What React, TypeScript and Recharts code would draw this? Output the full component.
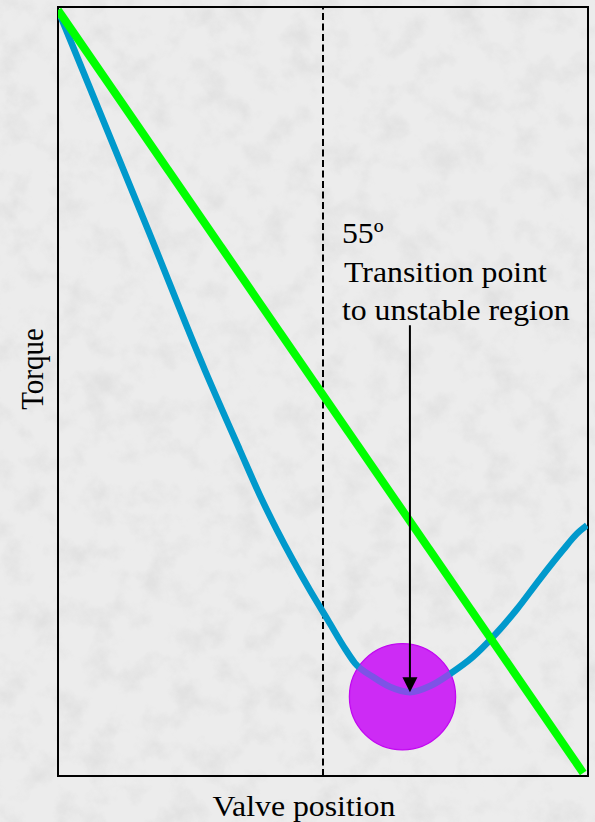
import React from 'react';
import { LineChart, Line, XAxis, YAxis, ReferenceLine, ReferenceArea, ReferenceDot } from 'recharts';

// valve position (0-100) vs torque (0-100)
const blueX = [0, 17.0, 27.7, 34.3, 38.5, 41.3, 44.3, 47.5, 50.9, 54.3, 56.0, 59.4, 62.6, 66.4, 70.2, 74.0, 78.3, 82.1, 86.6, 90.9, 95.3, 97.9, 99.8];
const blueY = [99.6, 71.0, 52.8, 42.4, 35.9, 32.0, 28.1, 24.2, 20.3, 16.4, 14.7, 12.9, 11.6, 10.9, 11.7, 13.3, 15.5, 18.1, 21.7, 25.6, 29.4, 31.5, 32.6];
const greenX = [0, 99.1];
const greenY = [99.6, 0.4];

const transitionX = 50;
const minimumX = 66.4;
const minimumY = 10.9;
const arrowTopY = 58.6;
const circleX = 65;
const circleY = 10.3;

const noteLines = ['55º', 'Transition point', 'to unstable region'];
const xTitle = 'Valve position';
const yTitle = 'Torque';

const blueData = blueX.map((x, i) => ({ x, y: blueY[i] }));
const greenData = greenX.map((x, i) => ({ x, y: greenY[i] }));

const FONT = 'Liberation Serif';
const SX = 1.06; // the lettering in the picture is a bit wide

const XTitle = (props: any) => {
  const vb = props.viewBox || { x: 58, y: 776, width: 530, height: 46 };
  const cx = vb.x + vb.width / 2 - 19;
  const cy = vb.y + 40;
  return (
    <text transform={`translate(${cx}, ${cy}) scale(${SX}, 1)`} textAnchor="middle" style={{ fontFamily: FONT }} fontSize={30} fill="#000">
      {xTitle}
    </text>
  );
};

const YTitle = (props: any) => {
  const vb = props.viewBox || { x: 0, y: 7, width: 58, height: 769 };
  const cx = vb.x + 43;
  const cy = vb.y + 362;
  return (
    <text transform={`translate(${cx}, ${cy}) rotate(-90) scale(1, ${SX})`} textAnchor="middle" style={{ fontFamily: FONT }} fontSize={29} fill="#000">
      {yTitle}
    </text>
  );
};

const Arrow = (props: any) => {
  const { x1, y1, x2, y2 } = props;
  return (
    <g>
      <text transform={`translate(${x1 - 68}, ${y1 - 82}) scale(${SX}, 1)`} style={{ fontFamily: FONT }} fontSize={30} fill="#000">
        {noteLines.map((t, i) => (
          <tspan key={i} x={i === 1 ? 2 : 0} y={i * 38.5}>
            {t}
          </tspan>
        ))}
      </text>
      <line x1={x1} y1={y1} x2={x2} y2={y2 - 12} stroke="#000" strokeWidth={2} />
      <polygon points={`${x2 - 7.5},${y2 - 15} ${x2 + 7.5},${y2 - 15} ${x2},${y2}`} fill="#000" />
    </g>
  );
};

const Background = () => (
  <svg width={595} height={822} style={{ position: 'absolute', left: 0, top: 0 }}>
    <defs>
      <filter id="marble" x="0" y="0" width="100%" height="100%">
        <feTurbulence type="fractalNoise" baseFrequency="0.035" numOctaves={5} seed={7} result="n" />
        <feColorMatrix
          in="n"
          type="matrix"
          values="0 0 0 0 0.5  0 0 0 0 0.5  0 0 0 0 0.5  2.4 0 0 0 -1.1"
        />
      </filter>
    </defs>
    <rect width={595} height={822} fill="#ececec" />
    <rect width={595} height={822} filter="url(#marble)" opacity={0.22} />
  </svg>
);

export default function App() {
  return (
    <div style={{ position: 'absolute', left: 0, top: 0, width: 595, height: 822 }}>
      <Background />
      <div style={{ position: 'absolute', left: 0, top: 0 }}>
        <LineChart width={595} height={822} margin={{ top: 7, right: 7, left: 0, bottom: 0 }}>
          <XAxis
            type="number"
            dataKey="x"
            domain={[0, 100]}
            height={46}
            tick={false}
            tickLine={false}
            axisLine={false}
            label={{ content: <XTitle /> }}
            allowDataOverflow
          />
          <YAxis
            type="number"
            dataKey="y"
            domain={[0, 100]}
            width={58}
            tick={false}
            tickLine={false}
            axisLine={false}
            label={{ content: <YTitle /> }}
            allowDataOverflow
          />
          <ReferenceArea x1={0} x2={100} y1={0} y2={100} fill="none" stroke="#000" strokeWidth={2} />
          <ReferenceLine x={transitionX} stroke="#000" strokeWidth={2} strokeDasharray="7 3.5" />
          <ReferenceDot x={circleX} y={circleY} r={53} fill="#cf30f5" stroke="#c000f0" strokeWidth={1.5} zIndex={300} />
          <Line
            data={blueData}
            dataKey="y"
            type="monotone"
            stroke="#0099cc"
            strokeWidth={6.5}
            dot={false}
            activeDot={false}
            isAnimationActive={false}
          />
          <Line
            data={greenData}
            dataKey="y"
            type="linear"
            stroke="#00ff00"
            strokeWidth={8}
            dot={false}
            activeDot={false}
            isAnimationActive={false}
          />
          <ReferenceDot x={circleX} y={circleY} r={53} fill="#cc28f5" fillOpacity={0.62} stroke="none" />
          <ReferenceLine
            segment={[
              { x: minimumX, y: arrowTopY },
              { x: minimumX, y: minimumY },
            ]}
            shape={<Arrow />}
            zIndex={2000}
          />
        </LineChart>
      </div>
    </div>
  );
}
